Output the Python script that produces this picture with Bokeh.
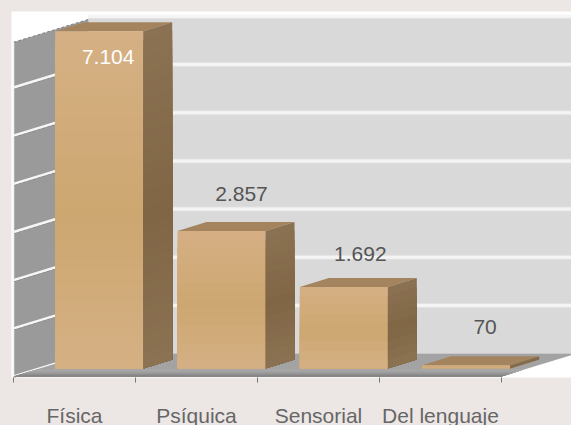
from bokeh.plotting import figure
from bokeh.models import FixedTicker, Range1d, LinearAxis
from bokeh.core.properties import value
from bokeh.embed import file_html
from bokeh.resources import INLINE

categories = ["Física", "Psíquica", "Sensorial", "Del lenguaje"]
values = [7104, 2857, 1692, 70]
value_labels = ["7.104", "2.857", "1.692", "70"]
axis_max = 7000
grid_step = 1000

# layout constants
PAGE = "#ece6e5"
KY = 0.0483    # px per value unit
KX = 122.0     # px per category
ux = lambda px: px / KX
uy = lambda px: px / KY

p = figure(width=571, height=429, output_backend="svg", toolbar_location=None,
           x_range=Range1d(-2 / KX, 558 / KX),
           y_range=Range1d(-9 / KY, 358 / KY),
           x_axis_location=None, y_axis_location=None,
           min_border_left=11, min_border_right=0, min_border_top=11, min_border_bottom=51,
           background_fill_color="white", border_fill_color=PAGE, outline_line_color=None)
p.grid.visible = False

floor_dy = 8  # wall front is 8 px below zero line
wall_dx, wall_dy = 75, 23
x0w, y0w = 0.0, uy(-floor_dy)
xb, yb = ux(wall_dx), uy(-floor_dy + wall_dy)
wall_top = axis_max - uy(3)

# back wall
p.quad(left=[xb], right=[5], bottom=[yb], top=[yb + axis_max], fill_color="#d9d9d9", line_color=None)
for w, a in ((5, 0.35), (3, 1.0)):
    p.segment([xb] * 7, [yb + grid_step * n for n in range(1, 8)],
              [5] * 7, [yb + grid_step * n for n in range(1, 8)],
              line_color="#f4f4f4", line_width=w, line_alpha=a)

# left wall
p.patch([x0w, xb, xb, x0w], [y0w, yb, yb + wall_top, y0w + wall_top], fill_color="#9a9a9a", line_color=None)
ns = list(range(0, 8))
p.segment([x0w] * 7, [y0w + grid_step * n - uy(1.5) for n in ns[:-1]], [xb] * 7, [yb + grid_step * n - uy(1.5) for n in ns[:-1]],
          line_color="#7d7d7d", line_width=1, line_dash="3 2")
p.segment([x0w], [y0w + wall_top], [xb], [yb + wall_top], line_color="#808080", line_width=1, line_dash="3 2")
p.segment([x0w] * 7, [y0w + grid_step * n for n in ns[:-1]], [xb] * 7, [yb + grid_step * n for n in ns[:-1]],
          line_color="#f6f6f6", line_width=2.5)
p.segment([x0w], [y0w], [x0w], [y0w + wall_top], line_color="#f4f4f4", line_width=1.5)

# floor: upper flat part, then a band that darkens towards the front edge
p.patch([0, xb, 4 + xb, 4], [y0w, yb, yb, y0w], fill_color="#a3a3a3", line_color=None)
bands = 8
for b in range(bands):
    t0 = b / bands
    y_a = uy(-floor_dy + 7 * (1 - t0))
    g = int(168 - 48 * t0 ** 1.5)
    col = f"#{g:02x}{g:02x}{g:02x}"
    shift = ux(7 * (1 - t0) * wall_dx / wall_dy)
    p.patch([0, shift, 4 + shift, 4], [y0w, y_a, y_a, y0w], fill_color=col, line_color=None)


def mix(c1, c2, t):
    return "#" + "".join(f"{int(round(a + (b - a) * t)):02x}" for a, b in zip(c1, c2))


def ramp(t, light, dark):
    s = (1 - t) / 0.45 if t > 0.55 else t / 0.55
    return mix(light, dark, s)


FRONT_L, FRONT_D = (213, 176, 132), (205, 167, 112)
SIDE_L, SIDE_D = (139, 114, 82), (128, 102, 69)
TOP = "#a4845e"
bar_left = ux(41.7)
bar_w = ux(88)
bar_step = 122.3 / KX
dx, dy = ux(29), uy(9)
N = 40

for i, v in enumerate(values):
    h = min(v, axis_max)
    x1 = i * bar_step + bar_left
    x2 = x1 + bar_w
    steps = max(2, int(N * h / axis_max))
    p.patch([x1, x1 + dx, x2 + dx, x2], [h, h + dy, h + dy, h], fill_color=TOP, line_color=None)
    for s in range(steps):
        mid = (s + 0.5) / steps
        y1 = h * (1 - s / steps)
        fc = ramp(mid, FRONT_L, FRONT_D)
        sc = ramp(mid, SIDE_L, SIDE_D)
        p.quad(left=[x1], right=[x2], bottom=[0], top=[y1], fill_color=fc, line_color=None)
        p.patch([x2, x2 + dx, x2 + dx, x2], [0, dy, y1 + dy, y1], fill_color=sc, line_color=None)

# value labels
lab_dx = [9, 20, 16.5, 19]
lab_dy = [-26, 37, 33, 38]
lab_col = ["#ffffff", "#555555", "#555555", "#555555"]
xs = [i * bar_step + bar_left + bar_w / 2 + ux(d) for i, d in enumerate(lab_dx)]
ys = [min(v, axis_max) + uy(d) for v, d in zip(values, lab_dy)]
p.text(xs, ys, text=value_labels, text_color=lab_col, text_font=value("Liberation Sans"),
       text_font_size="21px", text_align="center", text_baseline="middle")

# category axis
axis = LinearAxis(ticker=FixedTicker(ticks=[0.5, 1.5, 2.5, 3.5], minor_ticks=[0, 1, 2, 3, 4]),
                  major_label_overrides={i + 0.5: c for i, c in enumerate(categories)})
axis.axis_line_color = None
axis.major_tick_line_color = None
axis.major_tick_in = 0
axis.major_tick_out = 0
axis.minor_tick_line_color = "#777777"
axis.minor_tick_in = 0
axis.minor_tick_out = 5
axis.major_label_standoff = 21
axis.major_label_text_font = "Liberation Sans"
axis.major_label_text_font_size = "21px"
axis.major_label_text_color = "#666666"
p.add_layout(axis, "below")

html = file_html(p, INLINE)
html = html.replace("<head>", "<head><style>html,body{background:#ece6e5;margin:0;overflow:hidden}</style>", 1)
open("out.html", "w").write(html)
